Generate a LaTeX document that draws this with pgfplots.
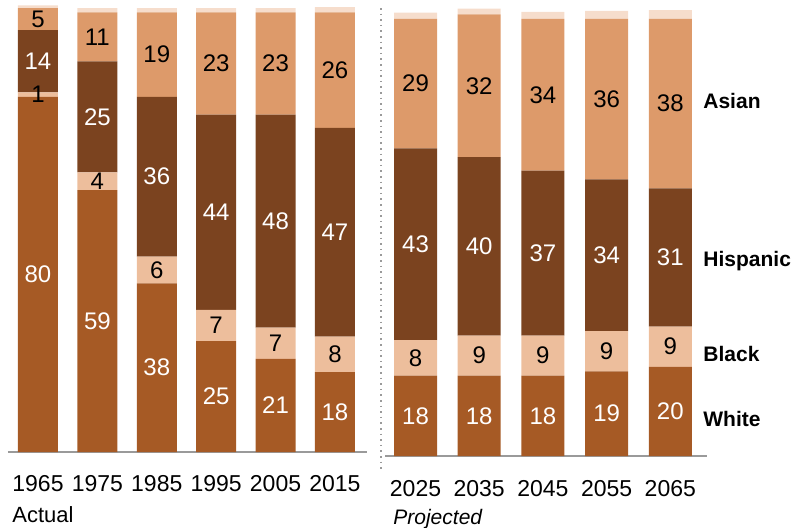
\documentclass[border=0pt]{standalone}
\usepackage{fontspec}
\setmainfont{Liberation Sans}
\usepackage{pgfplots}
\pgfplotsset{compat=1.18}
\usepackage{pgfplotstable}
\definecolor{cWhite}{HTML}{A65A25}
\definecolor{cBlack}{HTML}{EDBE9C}
\definecolor{cHisp}{HTML}{7B431F}
\definecolor{cAsian}{HTML}{DD9A6A}
\definecolor{cOther}{HTML}{F6DDCC}
\definecolor{axgray}{HTML}{9A9A9A}

\pgfplotstableread{
x W B H A O
0 80 1 14 5 0.6
1 59 4 25 11 1
2 38 6 36 19 1
3 25 7 44 23 1
4 21 7 48 23 1
5 18 8 47 26 1.2
}\actual

\pgfplotstableread{
x W B H A O
0 18 8 43 29 1.4
1 18 9 40 32 1.3
2 18 9 37 34 1.6
3 19 9 34 36 1.8
4 20 9 31 38 2
}\proj

\pgfplotsset{
  /pgf/number format/assume math mode=true,
  mybars/.style={
    ybar stacked, scale only axis, ymin=0, ymax=100, clip=false,
    hide y axis, axis x line*=bottom,
    x axis line style={draw=axgray, line width=1.2pt},
    xtick=data, xtick style={draw=none}, major tick length=0pt,
    xticklabel style={anchor=center, font=\fontsize{11.5}{13}\selectfont},
  },
  lab/.style={point meta=explicit, nodes near coords,
    every node near coord/.append style={anchor=center, text=#1,
      font=\fontsize{12}{13}\selectfont}},
}

\begin{document}
\begin{tikzpicture}
\useasboundingbox (0,0) rectangle (400pt,263.5pt);

\begin{axis}[mybars, at={(4pt,37.5pt)}, anchor=south west,
  width=179.5pt, height=222pt, xmin=-0.505, xmax=5.54, bar width=20pt,
  xticklabels={1965,1975,1985,1995,2005,2015},
  xticklabel style={yshift=-16pt}]
\addplot[fill=cWhite, draw=none, lab=white] table[x=x, y=W, meta=W]{\actual};
\addplot[fill=cBlack, draw=none, lab=black] table[x=x, y=B, meta=B]{\actual};
\addplot[fill=cHisp, draw=none, lab=white] table[x=x, y=H, meta=H]{\actual};
\addplot[fill=cAsian, draw=none, lab=black] table[x=x, y=A, meta=A]{\actual};
\addplot[fill=cOther, draw=none] table[x=x, y=O]{\actual};
\end{axis}

\begin{axis}[mybars, at={(192.5pt,35.5pt)}, anchor=south west,
  width=161pt, height=223pt, xmin=-0.479, xmax=4.576, bar width=21.5pt,
  xticklabels={2025,2035,2045,2055,2065},
  xticklabel style={yshift=-16.5pt}]
\addplot[fill=cWhite, draw=none, lab=white] table[x=x, y=W, meta=W]{\proj};
\addplot[fill=cBlack, draw=none, lab=black] table[x=x, y=B, meta=B]{\proj};
\addplot[fill=cHisp, draw=none, lab=white] table[x=x, y=H, meta=H]{\proj};
\addplot[fill=cAsian, draw=none, lab=black] table[x=x, y=A, meta=A]{\proj};
\addplot[fill=cOther, draw=none] table[x=x, y=O]{\proj};
\end{axis}

\draw[axgray, dotted, line width=0.8pt] (190.5pt,259.5pt) -- (190.5pt,27.5pt);

\begin{scope}[every node/.style={anchor=west, inner sep=0pt, font=\bfseries\fontsize{10.5}{12}\selectfont}]
\node at (351.5pt,213pt) {Asian};
\node at (351.5pt,133pt) {Hispanic};
\node at (351.5pt,86.5pt) {Black};
\node at (351.5pt,54pt) {White};
\end{scope}
\node[anchor=base west, inner sep=0pt, font=\fontsize{11}{12}\selectfont] at (6pt,2.5pt) {Actual};
\node[anchor=base west, inner sep=0pt, font=\itshape\fontsize{10.5}{12}\selectfont] at (196.5pt,1.5pt) {Projected};
\end{tikzpicture}
\end{document}
